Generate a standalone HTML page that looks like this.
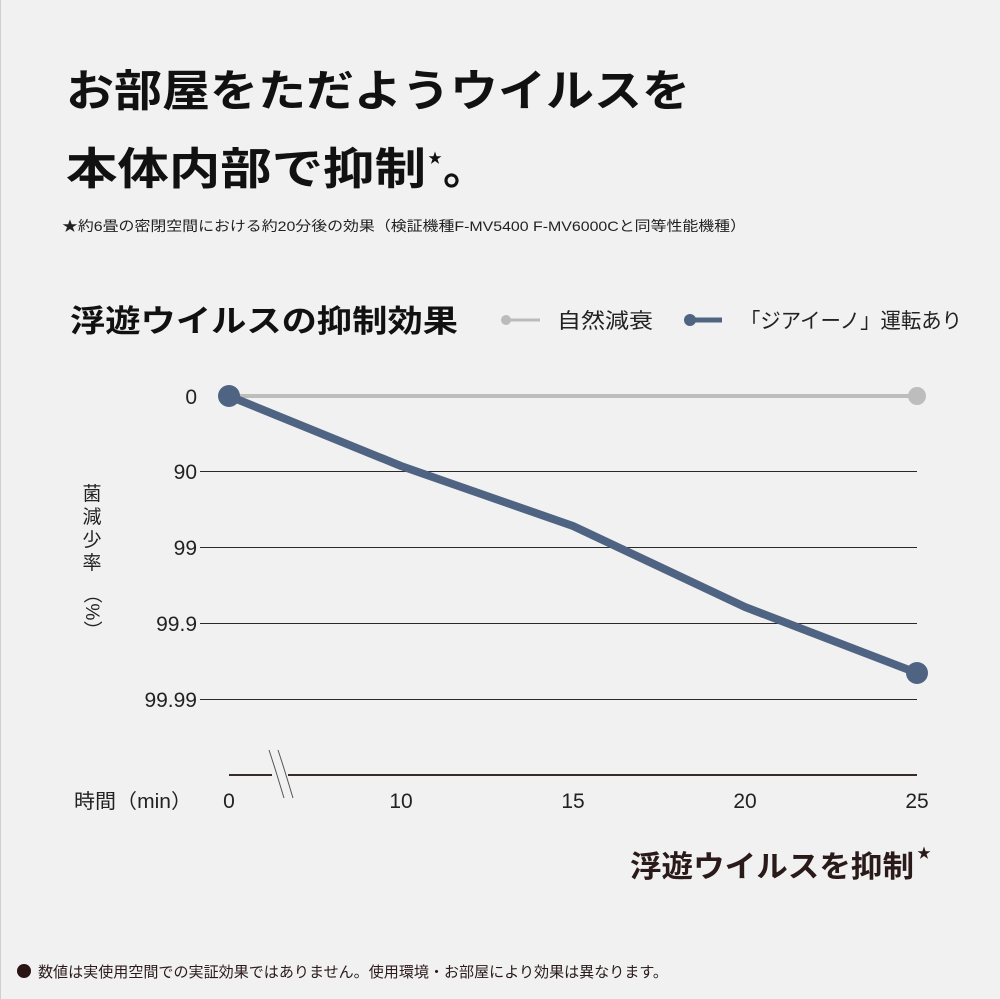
<!DOCTYPE html>
<html><head><meta charset="utf-8"><style>
html,body{margin:0;padding:0;background:#f1f1f1}
svg{display:block}
text{font-family:"Liberation Sans","Noto Sans CJK JP",sans-serif}
</style></head><body>
<svg width="1000" height="999" viewBox="0 0 1000 999">
<rect width="1000" height="999" fill="#f1f1f1"/>
<line x1="0.5" y1="0" x2="0.5" y2="999" stroke="#cfcfcf" stroke-width="1"/>
<text x="66" y="106" font-size="44" font-weight="bold" fill="#111" textLength="624" lengthAdjust="spacingAndGlyphs">お部屋をただようウイルスを</text>
<text x="66" y="184" font-size="44" font-weight="bold" fill="#111" textLength="360" lengthAdjust="spacingAndGlyphs">本体内部で抑制</text>
<text x="428" y="163" font-size="14" fill="#111">★</text>
<text x="443" y="184" font-size="44" font-weight="bold" fill="#111">。</text>
<text x="62" y="231" font-size="14" fill="#222" textLength="684" lengthAdjust="spacingAndGlyphs">★約6畳の密閉空間における約20分後の効果（検証機種F-MV5400 F-MV6000Cと同等性能機種）</text>

<text x="70" y="332" font-size="31" font-weight="bold" fill="#111" textLength="388" lengthAdjust="spacingAndGlyphs">浮遊ウイルスの抑制効果</text>
<line x1="506" y1="320" x2="540" y2="320" stroke="#bbb" stroke-width="3"/>
<circle cx="506" cy="320" r="5" fill="#bbb"/>
<text x="557" y="328" font-size="21" fill="#222" textLength="96" lengthAdjust="spacingAndGlyphs">自然減衰</text>
<line x1="690" y1="320" x2="722" y2="320" stroke="#4f6382" stroke-width="5"/>
<circle cx="690" cy="320" r="6" fill="#4f6382"/>
<text x="740" y="328" font-size="21" fill="#222" textLength="222" lengthAdjust="spacingAndGlyphs">「ジアイーノ」運転あり</text>

<g stroke="#2a2a2a" stroke-width="1">
<line x1="200" y1="471.5" x2="917" y2="471.5"/>
<line x1="200" y1="547.5" x2="917" y2="547.5"/>
<line x1="200" y1="623.5" x2="917" y2="623.5"/>
<line x1="200" y1="699.5" x2="917" y2="699.5"/>
</g>
<line x1="229" y1="775" x2="917" y2="775" stroke="#3a2a2a" stroke-width="2"/>
<rect x="272" y="760" width="16" height="30" fill="#f1f1f1"/>
<path d="M269 750 q4 12 8 25 t7 23 M278 750 q4 12 8 25 t7 23" fill="none" stroke="#555" stroke-width="1"/>

<g font-size="21" fill="#222" text-anchor="end">
<text x="197" y="404">0</text>
<text x="197" y="479">90</text>
<text x="197" y="555">99</text>
<text x="197" y="631">99.9</text>
<text x="197" y="707">99.99</text>
</g>
<g font-size="19" fill="#222">
<text x="92" y="500" text-anchor="middle">菌</text>
<text x="92" y="523" text-anchor="middle">減</text>
<text x="92" y="546" text-anchor="middle">少</text>
<text x="92" y="569" text-anchor="middle">率</text>
<text x="92" y="612" text-anchor="middle" transform="rotate(90 92 612)" dy="6">（%）</text>
</g>
<g font-size="21" fill="#222" text-anchor="middle">
<text x="229" y="808">0</text>
<text x="401" y="808">10</text>
<text x="573" y="808">15</text>
<text x="745" y="808">20</text>
<text x="917" y="808">25</text>
</g>
<text x="74" y="808" font-size="20" fill="#222" textLength="118" lengthAdjust="spacingAndGlyphs">時間（min）</text>

<line x1="229" y1="396" x2="917" y2="396" stroke="#bdbdbd" stroke-width="4"/>
<circle cx="917" cy="396" r="9" fill="#bdbdbd"/>
<polyline points="229,396 401,466 573,526 745,607 917,673" fill="none" stroke="#4f6382" stroke-width="8" stroke-linejoin="round"/>
<circle cx="229" cy="396" r="11" fill="#4f6382"/>
<circle cx="917" cy="673" r="11" fill="#4f6382"/>

<text x="630" y="877" font-size="30" font-weight="bold" fill="#2a1a1a" textLength="284" lengthAdjust="spacingAndGlyphs">浮遊ウイルスを抑制</text>
<text x="917" y="858" font-size="14" fill="#2a1a1a">★</text>

<circle cx="24" cy="971" r="7" fill="#2a1414"/>
<text x="38" y="977" font-size="15" fill="#2a1a1a" textLength="630" lengthAdjust="spacingAndGlyphs">数値は実使用空間での実証効果ではありません。使用環境・お部屋により効果は異なります。</text>
</svg>
</body></html>
